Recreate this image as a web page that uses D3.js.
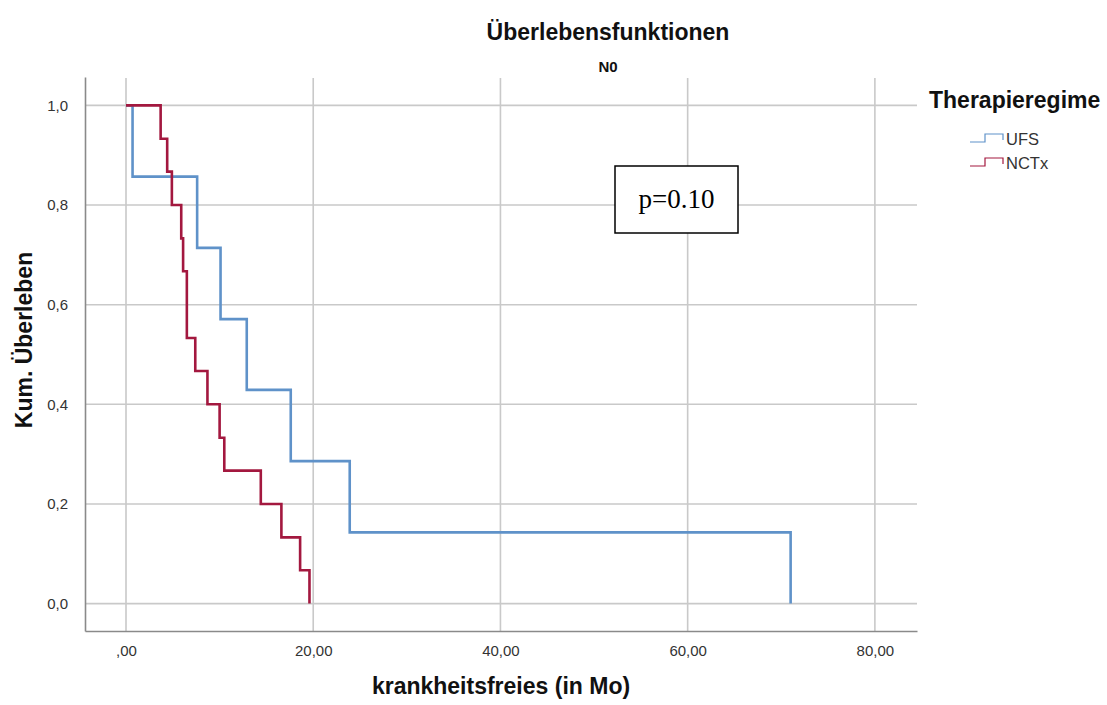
<!DOCTYPE html>
<html>
<head>
<meta charset="utf-8">
<script src="https://cdn.jsdelivr.net/npm/d3@7"></script>
<style>
  html, body { margin: 0; padding: 0; background: #fff; }
  svg { display: block; font-family: "Liberation Sans", Arial, sans-serif; }
</style>
</head>
<body>
<svg id="chart" width="1107" height="705"></svg>
<script>
// Kaplan-Meier estimates: event times (months) and cumulative survival after each event
const ufsTimes = [0, 0.7, 7.6, 10.1, 12.9, 17.6, 23.9, 71.0];
const ufsSurv  = [1.0, 0.857, 0.714, 0.571, 0.429, 0.286, 0.143, 0.0];

const nctxTimes = [0, 3.7, 4.4, 4.9, 5.9, 6.1, 6.5, 7.4, 8.7, 10.0, 10.5, 14.4, 16.6, 18.6, 19.6];
const nctxSurv  = [1.0, 0.933, 0.867, 0.8, 0.733, 0.667, 0.533, 0.467, 0.4, 0.333, 0.267, 0.2, 0.133, 0.067, 0.0];

const groupNames = ["UFS", "NCTx"];
const groupColors = ["#5f92c9", "#a3183f"];

const xTicks = [0, 20, 40, 60, 80];
const xTickLabels = [",00", "20,00", "40,00", "60,00", "80,00"];
const yTicks = [0, 0.2, 0.4, 0.6, 0.8, 1.0];
const yTickLabels = ["0,0", "0,2", "0,4", "0,6", "0,8", "1,0"];

const titleText = "Überlebensfunktionen";
const subtitleText = "N0";
const xTitle = "krankheitsfreies (in Mo)";
const yTitle = "Kum. Überleben";
const legendTitle = "Therapieregime";
const pValueText = "p=0.10";

const svg = d3.select("#chart");

// plot frame
const plotLeft = 85, plotRight = 917, plotTop = 77, plotBottom = 631;

const x = d3.scaleLinear().domain([-4.38, 84.5]).range([plotLeft, plotRight]);
const y = d3.scaleLinear().domain([-0.055, 1.057]).range([plotBottom, plotTop]);

// grid lines
const grid = svg.append("g").attr("stroke", "#c9c9c9").attr("stroke-width", 1.6);
grid.selectAll("line.v").data(xTicks).join("line").attr("class", "v")
  .attr("x1", d => x(d)).attr("x2", d => x(d))
  .attr("y1", plotTop + 1).attr("y2", plotBottom);
grid.selectAll("line.h").data(yTicks).join("line").attr("class", "h")
  .attr("x1", plotLeft).attr("x2", plotRight)
  .attr("y1", d => y(d)).attr("y2", d => y(d));

// axes
const xAxis = d3.axisBottom(x).tickValues(xTicks)
  .tickFormat((d, i) => xTickLabels[i]).tickSize(0).tickPadding(14);
const yAxis = d3.axisLeft(y).tickValues(yTicks)
  .tickFormat((d, i) => yTickLabels[i]).tickSize(0).tickPadding(17);

const gx = svg.append("g").attr("transform", `translate(0,${plotBottom})`).call(xAxis);
const gy = svg.append("g").attr("transform", `translate(${plotLeft},0)`).call(yAxis);
[gx, gy].forEach(g => {
  g.select(".domain").attr("stroke", "#8a8a8a").attr("stroke-width", 1.6);
  g.selectAll("text").attr("font-size", 15).attr("fill", "#333")
    .attr("font-family", "'Liberation Sans', Arial, sans-serif");
});

// survival step curves
const series = [
  { name: groupNames[0], t: ufsTimes, s: ufsSurv, color: groupColors[0] },
  { name: groupNames[1], t: nctxTimes, s: nctxSurv, color: groupColors[1] }
];
const line = d3.line()
  .x(d => x(d[0])).y(d => y(d[1]))
  .curve(d3.curveStepAfter);

svg.append("g").selectAll("path").data(series).join("path")
  .attr("d", d => line(d.t.map((t, i) => [t, d.s[i]])))
  .attr("fill", "none")
  .attr("stroke", d => d.color)
  .attr("stroke-width", 2.6)
  .attr("stroke-linejoin", "miter");

// titles
svg.append("text").attr("x", 608).attr("y", 40)
  .attr("text-anchor", "middle").attr("font-size", 23).attr("font-weight", "bold")
  .attr("fill", "#111").text(titleText);
svg.append("text").attr("x", 608).attr("y", 72)
  .attr("text-anchor", "middle").attr("font-size", 15).attr("font-weight", "bold")
  .attr("fill", "#111").text(subtitleText);

svg.append("text").attr("x", 501).attr("y", 694)
  .attr("text-anchor", "middle").attr("font-size", 23).attr("font-weight", "bold")
  .attr("fill", "#111").text(xTitle);
svg.append("text")
  .attr("transform", "translate(32,340) rotate(-90)")
  .attr("text-anchor", "middle").attr("font-size", 23).attr("font-weight", "bold")
  .attr("fill", "#111").text(yTitle);

// p-value box
const pBox = svg.append("g");
pBox.append("rect").attr("x", 615).attr("y", 166).attr("width", 123).attr("height", 67)
  .attr("fill", "#fff").attr("stroke", "#000").attr("stroke-width", 1.5);
pBox.append("text").attr("x", 676.5).attr("y", 208)
  .attr("text-anchor", "middle").attr("font-size", 27)
  .attr("font-family", "'Liberation Serif', 'Times New Roman', serif")
  .attr("fill", "#000").text(pValueText);

// legend
const legend = svg.append("g");
legend.append("text").attr("x", 929).attr("y", 108)
  .attr("font-size", 23).attr("font-weight", "bold").attr("fill", "#111").text(legendTitle);
const items = legend.selectAll("g.item").data(series).join("g").attr("class", "item")
  .attr("transform", (d, i) => `translate(970,${145 + i * 24})`);
items.append("path")
  .attr("d", "M0,-3 H15 V-11 H33 V-5")
  .attr("fill", "none").attr("stroke", d => d.color).attr("stroke-width", 1.2);
items.append("text").attr("x", 36).attr("y", 0)
  .attr("font-size", 16.5).attr("fill", "#333").text(d => d.name);
</script>
</body>
</html>
